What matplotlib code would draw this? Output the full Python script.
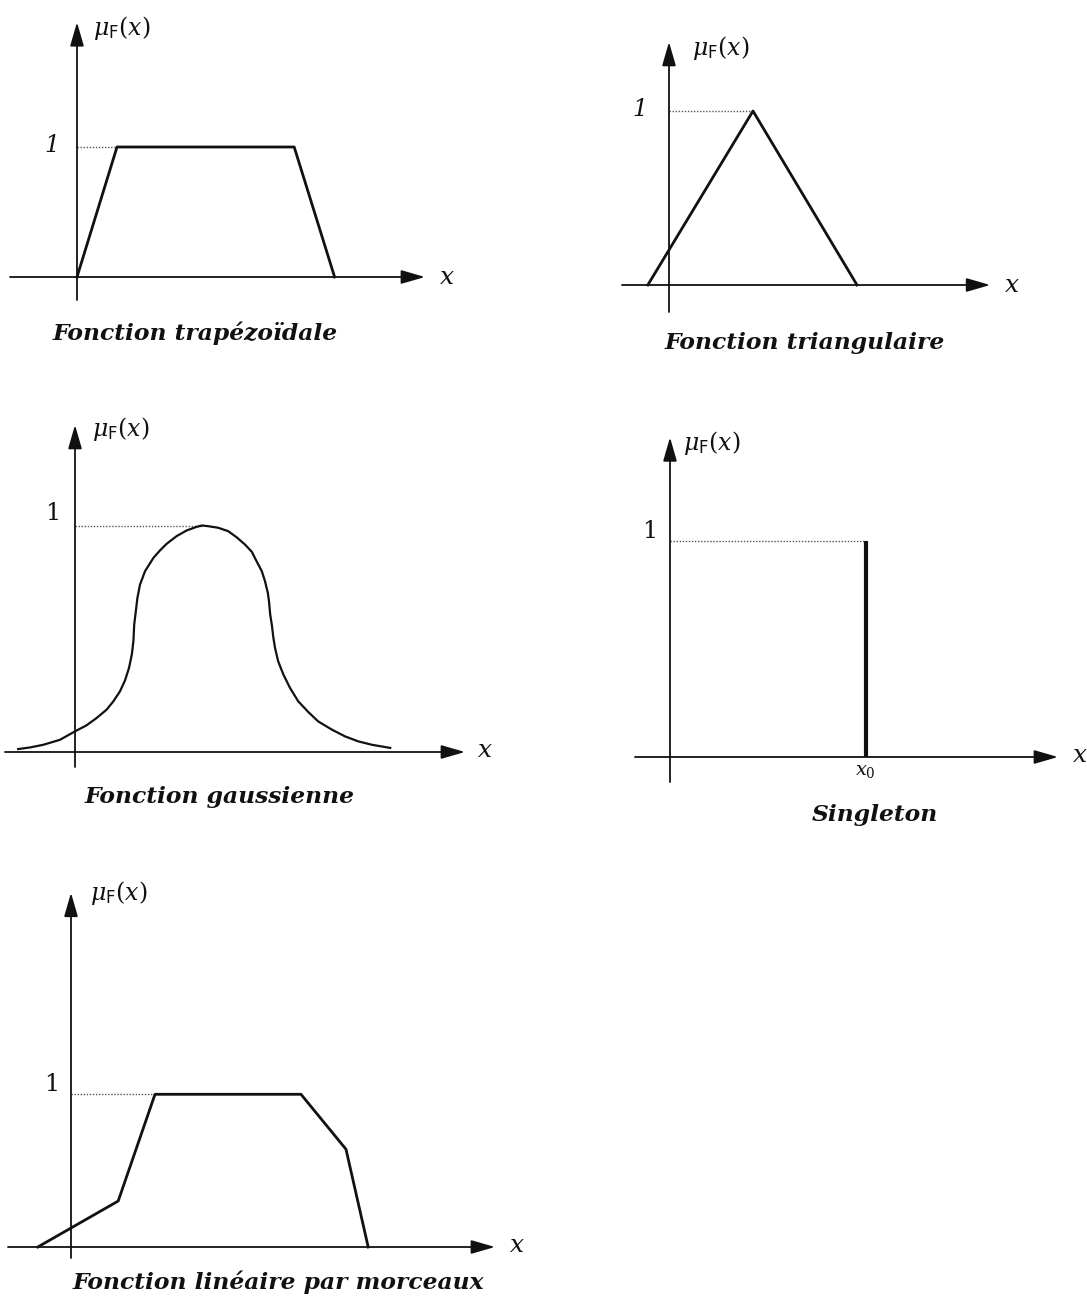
import matplotlib
matplotlib.use("Agg")
import matplotlib.pyplot as plt

plt.rcParams["font.family"] = "DejaVu Serif"
plt.rcParams["mathtext.fontset"] = "dejavuserif"

W, H = 1087, 1300
PX = 40.0  # pixels per x unit, same for every panel

# trapezoidal membership function
trap_x = [0.0, 1.0, 5.43, 6.44]
trap_y = [0.0, 1.0, 1.0, 0.0]

# triangular membership function
tri_x = [-0.53, 2.1, 4.7]
tri_y = [0.0, 1.0, 0.0]

# bell curve, traced point by point
gauss_x = [-1.42, -1.125, -0.79, -0.375, 0.0, 0.29, 0.54, 0.79, 0.96, 1.125,
           1.25, 1.35, 1.42, 1.46, 1.48, 1.52, 1.56, 1.625, 1.75, 1.96, 2.125,
           2.29, 2.54, 2.79, 3.04, 3.17, 3.33, 3.58, 3.83, 4.04, 4.25, 4.42,
           4.54, 4.67, 4.75, 4.82, 4.85, 4.88, 4.92, 4.96, 5.0, 5.08, 5.21,
           5.375, 5.58, 5.83, 6.08, 6.42, 6.75, 7.08, 7.42, 7.88]
gauss_y = [0.013, 0.020, 0.032, 0.054, 0.091, 0.118, 0.150, 0.187, 0.224,
           0.268, 0.316, 0.371, 0.430, 0.489, 0.562, 0.621, 0.680, 0.739,
           0.798, 0.857, 0.890, 0.919, 0.953, 0.978, 0.994, 1.0, 0.997, 0.990,
           0.975, 0.948, 0.916, 0.884, 0.842, 0.798, 0.754, 0.703, 0.665,
           0.607, 0.562, 0.504, 0.460, 0.400, 0.342, 0.283, 0.224, 0.177,
           0.135, 0.099, 0.069, 0.047, 0.032, 0.018]
gauss_peak = 3.17

# singleton
x0 = 4.89

# piecewise linear membership function
pw_x = [-0.83, 1.18, 2.1, 5.75, 6.875, 7.43]
pw_y = [0.0, 0.301, 1.0, 1.0, 0.64, 0.0]

captions = ["Fonction trapézoïdale", "Fonction triangulaire",
            "Fonction gaussienne", "Singleton",
            "Fonction linéaire par morceaux"]

INK = "#111111"

fig = plt.figure(figsize=(W / 100, H / 100), dpi=100)
fig.patch.set_facecolor("white")


def panel(origin, ypx, xr, yr, one_off, mu_off, x_off, italic_one):
    """Full-figure axes whose data origin lands on the given pixel."""
    ox, oy = origin
    ax = fig.add_axes([0, 0, 1, 1])
    ax.set_xlim(-ox / PX, (W - ox) / PX)
    ax.set_ylim(-(H - oy) / ypx, oy / ypx)
    ax.axis("off")
    ax.patch.set_alpha(0)

    arrow = dict(arrowstyle="-|>,head_length=0.52,head_width=0.15",
                 lw=1.3, color=INK, shrinkA=0, shrinkB=0, mutation_scale=28)
    ax.annotate("", xy=(0, yr[1]), xytext=(0, yr[0]), arrowprops=arrow)
    ax.annotate("", xy=(xr[1], 0), xytext=(xr[0], 0), arrowprops=arrow)

    ax.annotate("1", xy=(0, 1), xytext=one_off, textcoords="offset pixels",
                ha="center", va="center", fontsize=17, color=INK,
                fontstyle="italic" if italic_one else "normal")
    ax.annotate("$\\mu_{\\mathsf{F}}(x)$", xy=(0, yr[1]), xytext=mu_off,
                textcoords="offset pixels", ha="left", va="center",
                fontsize=17, color=INK)
    ax.annotate("$x$", xy=(xr[1], 0), xytext=x_off, textcoords="offset pixels",
                ha="left", va="center", fontsize=18, color=INK)
    return ax


def level_one(ax, x_end):
    ax.plot([0, x_end], [1, 1], color="#555555", lw=1.0,
            linestyle=(0, (1, 1.2)))


def caption(text, cx, cy):
    fig.text(cx / W, 1 - cy / H, text, ha="center", va="center",
             fontsize=16.8, fontweight="bold", fontstyle="italic", color=INK)


# trapezoid
ax = panel((77, 277), 130, (-1.675, 8.7), (-0.177, 1.96),
           (-25, 2), (16, -6), (14, 0), True)
level_one(ax, trap_x[1])
ax.plot(trap_x, trap_y, color=INK, lw=2.0, solid_joinstyle="round")
caption(captions[0], 195, 333)

# triangle
ax = panel((669, 285), 174, (-1.175, 8.03), (-0.155, 1.397),
           (-29, 2), (23, -6), (14, 0), True)
level_one(ax, tri_x[1])
ax.plot(tri_x, tri_y, color=INK, lw=2.0, solid_joinstyle="round")
caption(captions[1], 805, 343)

# gaussian
ax = panel((75, 752), 226.5, (-1.75, 9.75), (-0.066, 1.444),
           (-22, 12), (17, -4), (12, 2), False)
level_one(ax, gauss_peak)
ax.plot(gauss_x, gauss_y, color=INK, lw=1.6, solid_joinstyle="round")
caption(captions[2], 220, 797)

# singleton
ax = panel((670, 757), 216, (-0.875, 9.7), (-0.116, 1.48),
           (-20, 10), (13, -6), (14, 2), False)
level_one(ax, x0)
ax.plot([x0, x0], [0, 1], color=INK, lw=3.0, solid_capstyle="butt")
ax.annotate("$x_0$", xy=(x0, 0), xytext=(0, -14), textcoords="offset pixels",
            ha="center", va="center", fontsize=14, color=INK)
caption(captions[3], 875, 815)

# piecewise linear
ax = panel((71, 1247), 152.7, (-1.575, 10.6), (-0.072, 2.32),
           (-19, 10), (19, 0), (14, 2), False)
level_one(ax, pw_x[2])
ax.plot(pw_x, pw_y, color=INK, lw=2.0, solid_joinstyle="round")
caption(captions[4], 278, 1282)

fig.savefig("out.png", dpi=100, facecolor="white")
